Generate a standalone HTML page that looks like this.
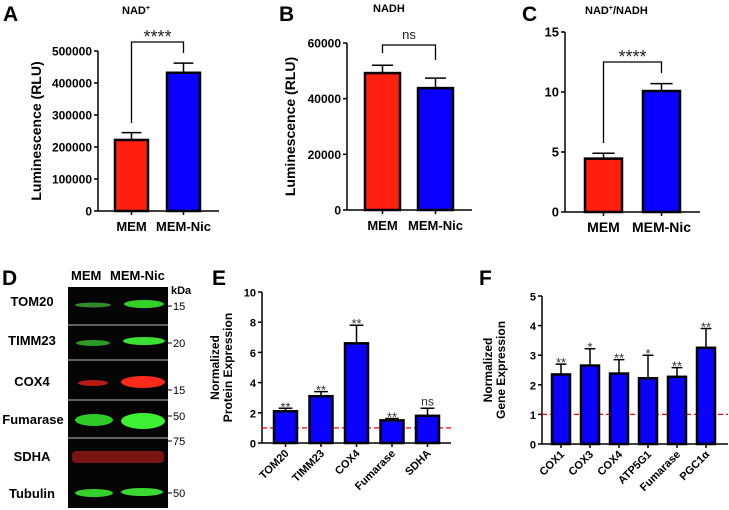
<!DOCTYPE html>
<html><head><meta charset="utf-8"><style>
html,body{margin:0;padding:0;background:#fff;}
svg{display:block;font-family:"Liberation Sans",Arial,sans-serif;}
text{font-weight:bold;}
</style></head><body>
<svg id="fig" width="729" height="510" viewBox="0 0 729 510" xmlns="http://www.w3.org/2000/svg">
  <text x="3" y="21" font-size="21">A</text>
  <text x="122" y="14" font-size="11">NAD<tspan font-size="7" dy="-4">+</tspan></text>
  <text x="279" y="21" font-size="21">B</text>
  <text x="373" y="12" font-size="11">NADH</text>
  <text x="522" y="21" font-size="21">C</text>
  <text x="585" y="14" font-size="11">NAD<tspan font-size="7" dy="-4">+</tspan><tspan dy="4">/NADH</tspan></text>
  <text x="2" y="285" font-size="21">D</text>
  <text x="212" y="285" font-size="21">E</text>
  <text x="479" y="285" font-size="21">F</text>

  <g id="blot">
    <text x="71" y="280" font-size="13">MEM</text>
    <text x="110" y="280" font-size="13">MEM-Nic</text>
    <text x="171" y="294" font-size="11">kDa</text>
    <rect x="68" y="287" width="100" height="221" fill="#050505"/>
    <g stroke="#bbb" stroke-width="1">
      <line x1="68" y1="325" x2="168" y2="325"/><line x1="68" y1="360" x2="168" y2="360"/>
      <line x1="68" y1="400" x2="168" y2="400"/><line x1="68" y1="438" x2="168" y2="438"/>
    </g>
    <g>
      <ellipse cx="93" cy="305" rx="18" ry="2.5" fill="#2f8a2a"/>
      <ellipse cx="144" cy="304" rx="20" ry="4" fill="#33d22a"/>
      <ellipse cx="93" cy="343" rx="17" ry="3" fill="#2c9a27"/>
      <ellipse cx="144" cy="341" rx="21" ry="4" fill="#3be032"/>
      <ellipse cx="93" cy="383" rx="15" ry="3" fill="#b81a14"/>
      <ellipse cx="143" cy="382" rx="22" ry="6" fill="#ff2a1a"/>
      <ellipse cx="94" cy="420" rx="19" ry="6" fill="#2fcc28"/>
      <ellipse cx="143" cy="421" rx="22" ry="8" fill="#3ef034"/>
      <rect x="72" y="451" width="92" height="12" rx="4" fill="#7a1410"/>
      <ellipse cx="94" cy="493" rx="19" ry="4" fill="#33d02b"/>
      <ellipse cx="142" cy="492" rx="21" ry="4" fill="#3ad832"/>
    </g>
    <g font-size="13" text-anchor="middle">
      <text x="32" y="306">TOM20</text><text x="32" y="345">TIMM23</text>
      <text x="32" y="386">COX4</text><text x="33" y="424">Fumarase</text>
      <text x="32" y="461">SDHA</text><text x="32" y="498">Tubulin</text>
    </g>
    <g font-size="11">
      <g stroke="#000"><line x1="168" y1="306" x2="172" y2="306"/><line x1="168" y1="343" x2="172" y2="343"/><line x1="168" y1="390" x2="172" y2="390"/><line x1="168" y1="416" x2="172" y2="416"/><line x1="168" y1="441" x2="172" y2="441"/><line x1="168" y1="493" x2="172" y2="493"/></g>
      <text x="173" y="310" style="font-weight:normal">15</text><text x="173" y="347" style="font-weight:normal">20</text>
      <text x="173" y="394" style="font-weight:normal">15</text><text x="173" y="420" style="font-weight:normal">50</text>
      <text x="173" y="445" style="font-weight:normal">75</text><text x="173" y="497" style="font-weight:normal">50</text>
    </g>
  </g>
</svg>
<script>
// ---- data ----
const catsAB = ["MEM", "MEM-Nic"];
const nadValues = [222000, 432000];
const nadErrors = [23000, 30000];
const nadTicks = [0, 100000, 200000, 300000, 400000, 500000];
const nadhValues = [49200, 43800];
const nadhErrors = [2800, 3600];
const nadhTicks = [0, 20000, 40000, 60000];
const ratioValues = [4.45, 10.08];
const ratioErrors = [0.45, 0.62];
const ratioTicks = [0, 5, 10, 15];
const protCats = ["TOM20", "TIMM23", "COX4", "Fumarase", "SDHA"];
const protValues = [2.1, 3.1, 6.6, 1.5, 1.8];
const protErrors = [0.2, 0.3, 1.2, 0.12, 0.5];
const protSig = ["**", "**", "**", "**", "ns"];
const protTicks = [0, 2, 4, 6, 8, 10];
const geneCats = ["COX1", "COX3", "COX4", "ATP5G1", "Fumarase", "PGC1\u03b1"];
const geneValues = [2.35, 2.65, 2.38, 2.22, 2.27, 3.25];
const geneErrors = [0.35, 0.57, 0.47, 0.78, 0.31, 0.65];
const geneSig = ["**", "*", "**", "*", "**", "**"];
const geneTicks = [0, 1, 2, 3, 4, 5];

const NS = "http://www.w3.org/2000/svg";
const fig = document.getElementById("fig");
function mk(tag, attrs, parent) {
  const e = document.createElementNS(NS, tag);
  for (const k in attrs) e.setAttribute(k, attrs[k]);
  parent.appendChild(e);
  return e;
}
function chart(c) {
  const g = mk("g", {}, fig);
  
  
  const ymax = c.ticks[c.ticks.length - 1];
  const y = v => c.y0 - (v / ymax) * (c.y0 - c.yTop);
  const xc = i => c.x1 + c.step * i;
  const ya = mk("line", {x1: c.ax, y1: c.yTop, x2: c.ax, y2: c.y0, stroke: "#000", "stroke-width": 1.5}, g);
  
  
  const xa = mk("line", {x1: c.ax, y1: c.y0, x2: c.axEnd, y2: c.y0, stroke: "#000", "stroke-width": 1.5}, g);
  
  
  c.ticks.forEach(t => {
    mk("line", {x1: c.ax - 4, y1: y(t), x2: c.ax, y2: y(t), stroke: "#000", "stroke-width": 1.5}, g);
    const tl = mk("text", {x: c.ax - 6, y: y(t) + 4.5, "font-size": c.fs, "text-anchor": "end"}, g);
    tl.textContent = t;
    
    
  });
  if (c.ref !== undefined) {
    const rl = mk("line", {x1: c.ax, y1: y(c.ref), x2: c.axEnd, y2: y(c.ref), stroke: "#f00", "stroke-width": 1.3, "stroke-dasharray": "5,3"}, g);
    
    
  }
  c.vals.forEach((v, i) => {
    const cx = xc(i);
    const top = y(v + c.errs[i]);
    const eb = mk("path", {d: `M${cx},${y(v)}V${top}M${cx - c.bw * 0.3},${top}H${cx + c.bw * 0.3}`, stroke: "#000", "stroke-width": 1.5, fill: "none"}, g);
    
    
    const b = mk("rect", {x: cx - c.bw / 2, y: y(v), width: c.bw, height: c.y0 - y(v), fill: c.colors[i], stroke: "#000", "stroke-width": 2.5}, g);
    
    
    mk("line", {x1: cx, y1: c.y0, x2: cx, y2: c.y0 + 4, stroke: "#000", "stroke-width": 1.5}, g);
    if (c.sig) {
      const isNs = c.sig[i] === "ns";
      const s = mk("text", {x: cx, y: isNs ? top - 3 : top + 3, "font-size": isNs ? 12 : 13, "text-anchor": "middle", fill: "#333", style: "font-weight:normal"}, g);
      s.textContent = c.sig[i];
      
      
    }
    let xl;
    if (c.rot) {
      xl = mk("text", {x: 0, y: 0, "font-size": c.xfs, "text-anchor": "end", transform: `translate(${cx + 4},${c.y0 + 11}) rotate(-45)`}, g);
    } else {
      xl = mk("text", {x: cx, y: c.y0 + 20, "font-size": c.xfs, "text-anchor": "middle"}, g);
    }
    xl.textContent = c.cats[i];
    
    
  });
  c.ytitle.forEach((t, k) => {
    const yt = mk("text", {x: 0, y: 0, "font-size": c.tfs, "text-anchor": "middle",
      transform: `translate(${c.tx + k * (c.tfs + 1)},${(c.yTop + c.y0) / 2}) rotate(-90)`}, g);
    yt.textContent = t;
    
    
  });
  if (c.bracket) {
    const bk = c.bracket;
    const x0 = xc(0), x1 = xc(1);
    const br = mk("path", {d: `M${x0},${bk.l}V${bk.y}H${x1}V${bk.r}`, stroke: "#000", "stroke-width": 1.3, fill: "none"}, g);
    
    
    const isNs = bk.t === "ns";
    const st = mk("text", {x: (x0 + x1) / 2, y: isNs ? bk.y - 6 : bk.y + 1, "font-size": isNs ? 13 : 18, "text-anchor": "middle", fill: "#222", style: "font-weight:normal"}, g);
    st.textContent = bk.t;
    
    
  }
}
const rb = ["#ff2010", "#0a00ff"];
chart({name: "chart-nad", cats: catsAB, vals: nadValues, errs: nadErrors, ticks: nadTicks, colors: rb,
  ax: 98, axEnd: 219, y0: 211, yTop: 51, x1: 131.5, step: 52, bw: 33, fs: 12, xfs: 13, tfs: 14, tx: 41,
  ytitle: ["Luminescence (RLU)"], bracket: {y: 42, l: 123, r: 53, t: "****"}});
chart({name: "chart-nadh", cats: catsAB, vals: nadhValues, errs: nadhErrors, ticks: nadhTicks, colors: rb,
  ax: 347, axEnd: 472, y0: 210, yTop: 43, x1: 382.5, step: 53, bw: 35, fs: 12, xfs: 13, tfs: 14, tx: 295,
  ytitle: ["Luminescence (RLU)"], bracket: {y: 45, l: 53, r: 60, t: "ns"}});
chart({name: "chart-ratio", cats: catsAB, vals: ratioValues, errs: ratioErrors, ticks: ratioTicks, colors: rb,
  ax: 565, axEnd: 700, y0: 212, yTop: 32, x1: 603.5, step: 58, bw: 37, fs: 13, xfs: 14, tfs: 14, tx: 0,
  ytitle: [], bracket: {y: 62, l: 143, r: 73, t: "****"}});
chart({name: "chart-protein", cats: protCats, vals: protValues, errs: protErrors, ticks: protTicks, sig: protSig,
  colors: protCats.map(() => "#0a00ff"), ref: 1, rot: true,
  ax: 262, axEnd: 451, y0: 443, yTop: 292, x1: 285.5, step: 35.5, bw: 23, fs: 11, xfs: 11, tfs: 12, tx: 219,
  ytitle: ["Normalized", "Protein Expression"]});
chart({name: "chart-gene", cats: geneCats, vals: geneValues, errs: geneErrors, ticks: geneTicks, sig: geneSig,
  colors: geneCats.map(() => "#0a00ff"), ref: 1, rot: true,
  ax: 542, axEnd: 728, y0: 444, yTop: 296, x1: 561, step: 29, bw: 18, fs: 11, xfs: 11, tfs: 12, tx: 492,
  ytitle: ["Normalized", "Gene Expression"]});
</script>
</body></html>
